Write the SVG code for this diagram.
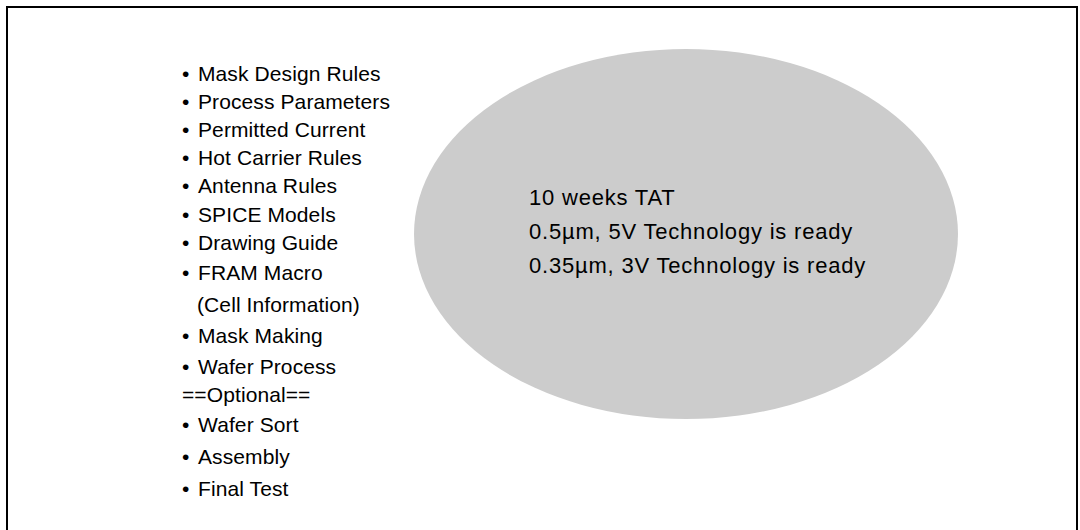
<svg xmlns="http://www.w3.org/2000/svg" width="1080" height="530" viewBox="0 0 1080 530">
<style>
.list{font-family:"Liberation Sans",Arial,sans-serif;font-size:21px;fill:#000;letter-spacing:0.1px}
.main{font-family:"Liberation Sans",Arial,sans-serif;font-size:22px;fill:#000;letter-spacing:0.8px}
</style>
<rect x="7" y="7" width="1070" height="540" fill="#fff" stroke="#000" stroke-width="2"/>
<g id="list">
<text class="list" x="182" y="81">•<tspan x="198">Mask Design Rules</tspan></text>
<text class="list" x="182" y="109">•<tspan x="198">Process Parameters</tspan></text>
<text class="list" x="182" y="137">•<tspan x="198">Permitted Current</tspan></text>
<text class="list" x="182" y="165">•<tspan x="198">Hot Carrier Rules</tspan></text>
<text class="list" x="182" y="193">•<tspan x="198">Antenna Rules</tspan></text>
<text class="list" x="182" y="222">•<tspan x="198">SPICE Models</tspan></text>
<text class="list" x="182" y="250">•<tspan x="198">Drawing Guide</tspan></text>
<text class="list" x="182" y="280">•<tspan x="198">FRAM Macro</tspan></text>
<text class="list" x="197" y="312">(Cell Information)</text>
<text class="list" x="182" y="343">•<tspan x="198">Mask Making</tspan></text>
<text class="list" x="182" y="374">•<tspan x="198">Wafer Process</tspan></text>
<text class="list" x="182" y="402">==Optional==</text>
<text class="list" x="182" y="432">•<tspan x="198">Wafer Sort</tspan></text>
<text class="list" x="182" y="464">•<tspan x="198">Assembly</tspan></text>
<text class="list" x="182" y="496">•<tspan x="198">Final Test</tspan></text>
</g>
<g id="ellipse-node">
<ellipse cx="686" cy="234" rx="272" ry="185" fill="#cccccc"/>
<text class="main" x="529" y="205">10 weeks TAT</text>
<text class="main" x="529" y="239">0.5µm, 5V Technology is ready</text>
<text class="main" x="529" y="273">0.35µm, 3V Technology is ready</text>
</g>
<g id="connectors"/>
</svg>
